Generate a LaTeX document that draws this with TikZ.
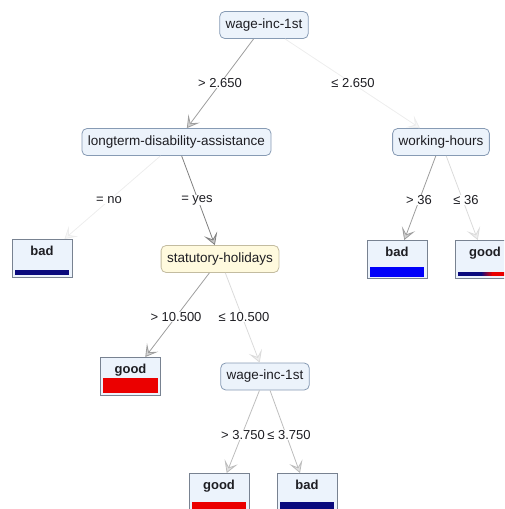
\documentclass[tikz,border=0pt]{standalone}
\usepackage{fontspec}
\setmainfont{Liberation Sans}
\usetikzlibrary{arrows.meta}

% palette
\definecolor{innerfill}{RGB}{236,243,251}
\definecolor{innerline}{RGB}{135,155,180}
\definecolor{focusfill}{RGB}{255,250,222}
\definecolor{focusline}{RGB}{195,188,160}
\definecolor{leaffill}{RGB}{236,243,252}
\definecolor{leafline}{RGB}{120,130,145}
\definecolor{navybar}{RGB}{10,10,125}
\definecolor{bluebar}{RGB}{0,0,250}
\definecolor{redbar}{RGB}{235,0,0}
\definecolor{txt}{RGB}{30,30,35}
% branch weights, darker = more examples
\definecolor{wA}{gray}{0.50}
\definecolor{wB}{gray}{0.62}
\definecolor{wC}{gray}{0.74}
\definecolor{wD}{gray}{0.86}
\definecolor{wE}{gray}{0.93}

\tikzset{
  split/.style={draw=innerline, fill=innerfill, rounded corners=5pt, line width=0.8pt,
    minimum height=27pt, inner xsep=6pt, font=\fontsize{13.5}{14}\selectfont, text=txt},
  focus/.style={split, draw=focusline, fill=focusfill},
  leaf/.style={draw=leafline, fill=leaffill, line width=0.8pt, minimum width=60pt,
    inner xsep=0pt, inner ysep=3pt, text height=13pt, text depth=19pt,
    font=\fontsize{13}{14}\selectfont\bfseries, text=txt},
  cond/.style={fill=white, inner sep=0.5pt, font=\fontsize{13}{14}\selectfont, text=txt},
  branch/.style={draw=#1, line width=0.8pt,
    -{Stealth[length=12pt,width=14pt,inset=6pt,line width=0.8pt,fill=#1!45]}},
}

\begin{document}
\begin{tikzpicture}[x=1pt,y=-1pt]
\useasboundingbox (0,0) rectangle (504,509);
\clip (0,0) rectangle (504,509);

% split nodes
\node[split] (root)  at (264,25)    {wage-inc-1st};
\node[split] (ltd)   at (176.5,142) {longterm-disability-assistance};
\node[split] (hours) at (441,142)   {working-hours};
\node[focus] (hol)   at (220,259)   {statutory-holidays};
\node[split] (wage)  at (265,376.5) {wage-inc-1st};

% leaves
\node[leaf, anchor=north] (badA)  at (42,239)    {bad};
\node[leaf, anchor=north] (badB)  at (397,240)   {bad};
\node[leaf, anchor=north] (goodA) at (485,240)   {good};
\node[leaf, anchor=north] (goodB) at (130.5,357) {good};
\node[leaf, anchor=north] (goodC) at (219,473)   {good};
\node[leaf, anchor=north] (badC)  at (307,473)   {bad};

% class distribution bars
\fill[navybar] ([xshift=3pt,yshift=2.5pt]badA.south west) rectangle ([xshift=-3pt,yshift=7.5pt]badA.south east);
\fill[bluebar] ([xshift=3pt,yshift=2pt]badB.south west) rectangle ([xshift=-3pt,yshift=12pt]badB.south east);
\fill[navybar] ([xshift=3pt,yshift=2.5pt]goodA.south west) rectangle ([xshift=26pt,yshift=7pt]goodA.south west);
% blended band between the two classes
\foreach \k in {0,...,11}{
  \pgfmathtruncatemacro{\mix}{100*\k/11}
  \fill[redbar!\mix!navybar] ([xshift=26pt+\k pt,yshift=2.5pt]goodA.south west)
    rectangle ([xshift=27.1pt+\k pt,yshift=7pt]goodA.south west);
}
\fill[redbar] ([xshift=38pt,yshift=2.5pt]goodA.south west) rectangle ([xshift=-3pt,yshift=7pt]goodA.south east);
\fill[redbar] ([xshift=3pt,yshift=3pt]goodB.south west) rectangle ([xshift=-3pt,yshift=18pt]goodB.south east);
\fill[redbar] ([xshift=3pt,yshift=3pt]goodC.south west) rectangle ([xshift=-3pt,yshift=10pt]goodC.south east);
\fill[navybar] ([xshift=3pt,yshift=3pt]badC.south west) rectangle ([xshift=-3pt,yshift=10pt]badC.south east);

% branches
\draw[branch=wB] (root) -- (ltd);
\draw[branch=wE] (root) -- (hours);
\draw[branch=wE] (ltd) -- (badA);
\draw[branch=wA] (ltd) -- (hol);
\draw[branch=wB] (hours) -- (badB);
\draw[branch=wD] (hours) -- (goodA);
\draw[branch=wB] (hol) -- (goodB);
\draw[branch=wD] (hol) -- (wage);
\draw[branch=wC] (wage) -- (goodC);
\draw[branch=wC] (wage) -- (badC);

% branch conditions
\node[cond] (c1)  at (220,83)  {> 2.650};
\node[cond] (c2)  at (353,83)  {≤ 2.650};
\node[cond] (c3)  at (109,200) {= no};
\node[cond] (c4)  at (197,200) {= yes};
\node[cond] (c5)  at (419,200) {> 36};
\node[cond] (c6)  at (466,200) {≤ 36};
\node[cond] (c7)  at (176,317) {> 10.500};
\node[cond] (c8)  at (244,317) {≤ 10.500};
\node[cond] (c9)  at (243,435) {> 3.750};
\node[cond] (c10) at (289,435) {≤ 3.750};
\end{tikzpicture}
\end{document}
